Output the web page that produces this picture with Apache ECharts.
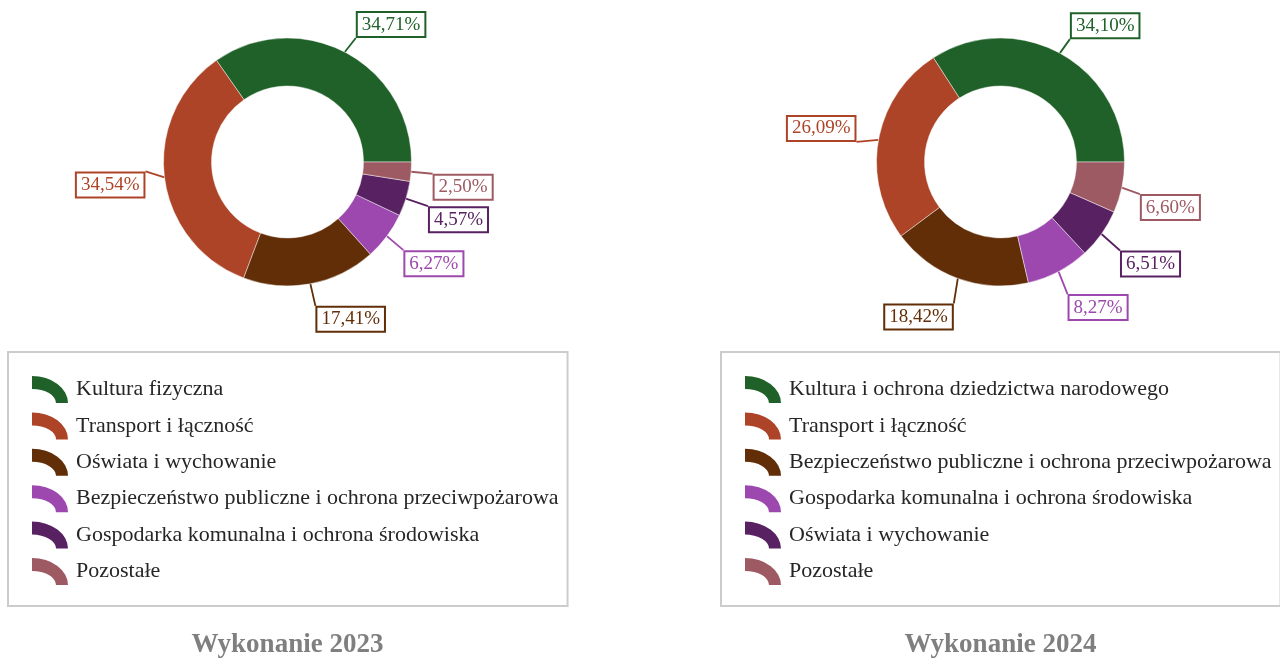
<!DOCTYPE html>
<html>
<head>
<meta charset="utf-8">
<title>Wykonanie 2023 / 2024</title>
<script src="https://cdn.jsdelivr.net/npm/echarts@6/dist/echarts.min.js"></script>
<style>
  html, body { margin: 0; padding: 0; background: #ffffff; }
  #chart { width: 1280px; height: 660px; }
</style>
</head>
<body>
<div id="chart"></div>
<script>
// Spending structure by section, share of total (%)
const names2023 = [
  'Kultura fizyczna',
  'Transport i łączność',
  'Oświata i wychowanie',
  'Bezpieczeństwo publiczne i ochrona przeciwpożarowa',
  'Gospodarka komunalna i ochrona środowiska',
  'Pozostałe'
];
const values2023 = [34.71, 34.54, 17.41, 6.27, 4.57, 2.50];

const names2024 = [
  'Kultura i ochrona dziedzictwa narodowego',
  'Transport i łączność',
  'Bezpieczeństwo publiczne i ochrona przeciwpożarowa',
  'Gospodarka komunalna i ochrona środowiska',
  'Oświata i wychowanie',
  'Pozostałe'
];
const values2024 = [34.10, 26.09, 18.42, 8.27, 6.51, 6.60];

const titles = ['Wykonanie 2023', 'Wykonanie 2024'];

// Slice colours, in slice order
const palette = ['#1f6128', '#ad4427', '#612e07', '#9d48ae', '#582161', '#9e5a62'];

const FONT = '"Liberation Serif", "Times New Roman", serif';

// Leader line end relative to the slice's outer edge point (px)
const leaderEnds2023 = [[11, -14], [-19, -6], [5, 22], [16.5, 14], [22, 7.5], [21.5, 2]];
const leaderEnds2024 = [[10, -14], [-22, 2], [-4, 25], [9, 22.5], [18.5, 16.5], [18, 6.5]];

const centers = [[287.5, 162], [1000.5, 162]];
const legendLefts = [8, 721];

const percentText = v => v.toFixed(2).replace('.', ',') + '%';

// Places each label box so that its nearest corner sits at the leader line end
function leaderLayout(center, ends) {
  return function (p) {
    const pts = p.labelLinePoints;
    if (!pts || !ends[p.dataIndex]) return {};
    const p0 = pts[0];
    const off = ends[p.dataIndex];
    const end = [p0[0] + off[0], p0[1] + off[1]];
    const r = p.labelRect;
    const onRight = p0[0] >= center[0];
    const above = p0[1] < center[1];
    const left = onRight ? end[0] : end[0] - r.width;
    const top = above ? end[1] - r.height : end[1];
    return {
      dx: left - r.x,
      dy: top - r.y,
      labelLinePoints: [p0, end]
    };
  };
}

function donut(names, values, center, ends) {
  return {
    type: 'pie',
    center: center,
    radius: [76, 124],
    startAngle: 0,
    clockwise: false,
    avoidLabelOverlap: false,
    animation: false,
    emphasis: { disabled: true },
    itemStyle: { borderColor: 'rgba(255,255,255,0.45)', borderWidth: 1 },
    label: {
      show: true,
      position: 'outside',
      formatter: p => percentText(p.value),
      fontFamily: FONT,
      fontSize: 19,
      lineHeight: 20,
      backgroundColor: '#ffffff',
      borderWidth: 2,
      padding: [2, 4, 1, 4],
      distanceToLabelLine: 0
    },
    labelLine: { show: true, length: 10, length2: 0, lineStyle: { width: 1.8 } },
    labelLayout: leaderLayout(center, ends),
    data: names.map((n, i) => ({
      name: n,
      value: values[i],
      itemStyle: { color: palette[i] },
      label: { color: palette[i], borderColor: palette[i] },
      labelLine: { lineStyle: { color: palette[i] } }
    }))
  };
}

function legendFor(names, left) {
  return {
    orient: 'vertical',
    left: left,
    top: 352,
    padding: [24, 9, 21, 24],
    itemGap: 9.4,
    itemWidth: 42,
    itemHeight: 27,
    icon: 'path://M0,0 A36,27 0 0 1 36,27 L24,27 A24,14 0 0 0 0,13 Z',
    itemStyle: { borderWidth: 0 },
    borderColor: '#cccccc',
    borderWidth: 2,
    selectedMode: false,
    textStyle: { fontFamily: FONT, fontSize: 22, color: '#262626' },
    data: names.map((n, i) => ({ name: n, itemStyle: { color: palette[i] } }))
  };
}

const chart = echarts.init(document.getElementById('chart'), null, { renderer: 'canvas' });
chart.setOption({
  backgroundColor: '#ffffff',
  animation: false,
  title: titles.map((t, i) => ({
    text: t,
    left: centers[i][0],
    top: 632,
    padding: 0,
    textAlign: 'center',
    textStyle: { fontFamily: FONT, fontSize: 27, fontWeight: 'bold', color: '#7f7f7f' }
  })),
  legend: [legendFor(names2023, legendLefts[0]), legendFor(names2024, legendLefts[1])],
  series: [
    donut(names2023, values2023, centers[0], leaderEnds2023),
    donut(names2024, values2024, centers[1], leaderEnds2024)
  ]
});
</script>
</body>
</html>
